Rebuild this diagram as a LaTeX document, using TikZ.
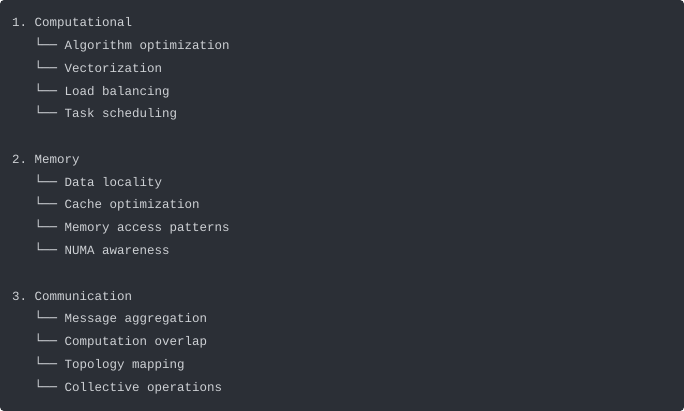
\documentclass[tikz,border=0pt]{standalone}
\usepackage{fontspec}
\setmonofont{Liberation Mono}
\newfontfamily\boxfont{DejaVu Sans Mono}[Scale=0.995]
\definecolor{bgcol}{HTML}{2B2F36}
\definecolor{txtcol}{HTML}{CDD0D4}
\begin{document}
\begin{tikzpicture}[x=1pt,y=-1pt,
  codeline/.style={anchor=base west,inner sep=0pt,text=txtcol,font=\ttfamily\fontsize{12.5}{14}\selectfont}]
\useasboundingbox (0,0) rectangle (684,411);
\fill[bgcol,rounded corners=4pt] (0,0) rectangle (684,411);
\def\br{{\boxfont └──}}
\node[codeline] (l1) at (12,27) {1. Computational};
\node[codeline] (l2) at (12,49.75) {\ \ \ \br\ Algorithm optimization};
\node[codeline] (l3) at (12,72.5) {\ \ \ \br\ Vectorization};
\node[codeline] (l4) at (12,95.25) {\ \ \ \br\ Load balancing};
\node[codeline] (l5) at (12,118) {\ \ \ \br\ Task scheduling};
\node[codeline] (l6) at (12,163.5) {2. Memory};
\node[codeline] (l7) at (12,186.25) {\ \ \ \br\ Data locality};
\node[codeline] (l8) at (12,209) {\ \ \ \br\ Cache optimization};
\node[codeline] (l9) at (12,231.75) {\ \ \ \br\ Memory access patterns};
\node[codeline] (l10) at (12,254.5) {\ \ \ \br\ NUMA awareness};
\node[codeline] (l11) at (12,300) {3. Communication};
\node[codeline] (l12) at (12,322.75) {\ \ \ \br\ Message aggregation};
\node[codeline] (l13) at (12,345.5) {\ \ \ \br\ Computation overlap};
\node[codeline] (l14) at (12,368.25) {\ \ \ \br\ Topology mapping};
\node[codeline] (l15) at (12,391) {\ \ \ \br\ Collective operations};
\end{tikzpicture}
\end{document}
